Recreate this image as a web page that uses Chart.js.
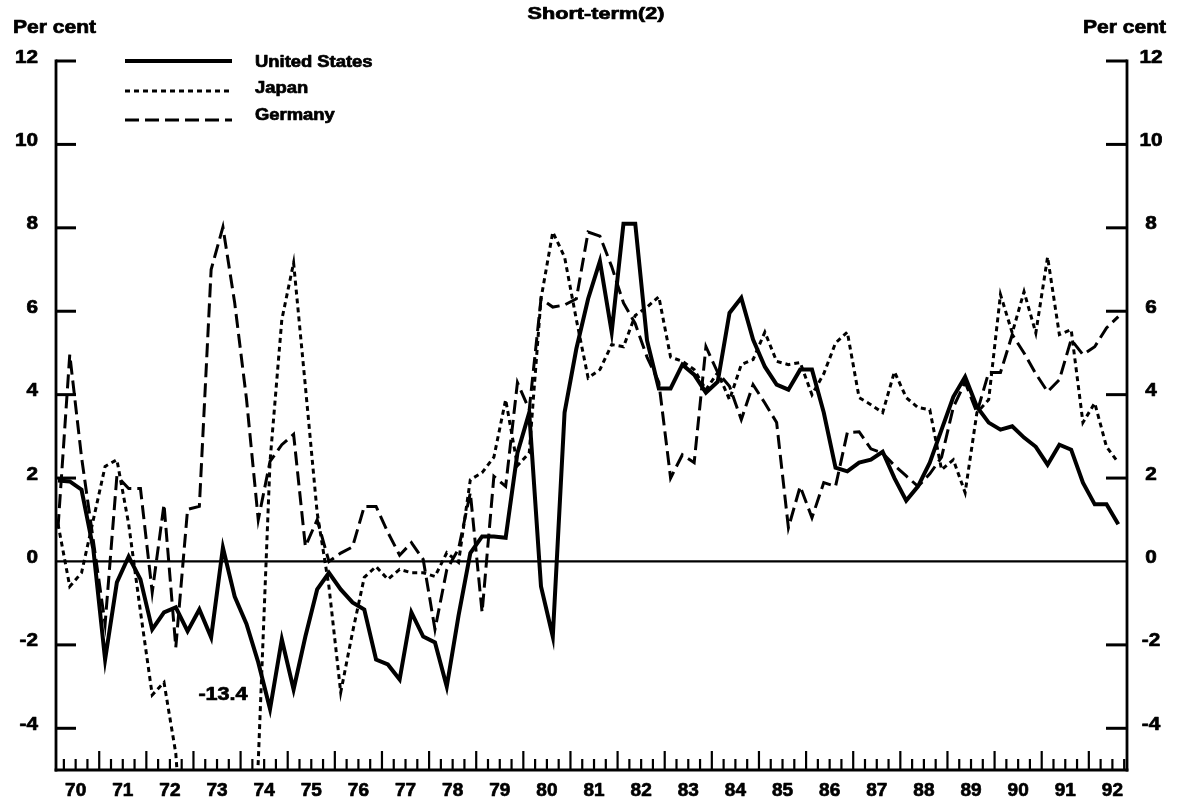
<!DOCTYPE html>
<html>
<head>
<meta charset="utf-8">
<title>Short-term(2)</title>
<script src="https://cdn.jsdelivr.net/npm/chart.js@4.4.1/dist/chart.umd.min.js"></script>
<style>
  html, body { margin: 0; padding: 0; background: #fff; }
  canvas { display: block; }
</style>
</head>
<body>
<canvas id="chart" width="1177" height="803"></canvas>
<script>
// Real short-term interest rates, quarterly, 1970 Q1 to 1992 Q3 (per cent)
const firstYear = 70;
const yearLabels = ['70','71','72','73','74','75','76','77','78','79','80','81',
                    '82','83','84','85','86','87','88','89','90','91','92'];
const yTicks = [12, 10, 8, 6, 4, 2, 0, -2, -4];

const unitedStates = [
  1.94, 1.92, 1.72, 0.3, -2.35, -0.5, 0.12, -0.43, -1.63, -1.22, -1.1, -1.67,
  -1.15, -1.82, 0.33, -0.84, -1.5, -2.42, -3.54, -1.87, -3.07, -1.8, -0.67, -0.27,
  -0.67, -0.98, -1.15, -2.35, -2.47, -2.83, -1.22, -1.8, -1.94, -3.0, -1.3, 0.2,
  0.6, 0.6, 0.57, 2.6, 3.57, -0.6, -1.8, 3.57, 5.1, 6.3, 7.2, 5.5,
  8.1, 8.1, 5.3, 4.15, 4.15, 4.72, 4.48, 4.05, 4.31, 5.96, 6.32, 5.32,
  4.67, 4.24, 4.12, 4.6, 4.6, 3.57, 2.25, 2.16, 2.37, 2.44, 2.63, 2.0,
  1.46, 1.8, 2.37, 3.16, 3.95, 4.43, 3.71, 3.33, 3.16, 3.24, 2.97, 2.75,
  2.32, 2.8, 2.68, 1.89, 1.37, 1.37, 0.89
];

const japan = [
  0.9, -0.6, -0.27, 1.0, 2.28, 2.44, 0.9, -1.2, -3.2, -2.9, -4.6, -8.6,
  -10.5, -12.0, -13.4, -12.6, -10.2, -4.8, 2.4, 5.8, 7.16, 4.2, 1.17, -0.6,
  -3.14, -1.7, -0.38, -0.12, -0.43, -0.19, -0.27, -0.27, -0.36, 0.21, -0.02, 1.96,
  2.13, 2.5, 3.88, 2.3, 2.6, 6.3, 7.9, 7.3, 5.8, 4.4, 4.6, 5.2,
  5.15, 5.9, 6.1, 6.35, 4.9, 4.8, 4.6, 4.12, 4.53, 3.88, 4.72, 4.84,
  5.5, 4.8, 4.72, 4.77, 4.0, 4.5, 5.24, 5.5, 3.93, 3.76, 3.57, 4.55,
  3.93, 3.69, 3.64, 2.2, 2.44, 1.65, 3.57, 3.88, 6.4, 5.48, 6.47, 5.48,
  7.3, 5.44, 5.56, 3.33, 3.8, 2.75, 2.37
];

const germany = [
  0.8, 4.96, 2.5, 0.5, -1.5, 2.05, 1.75, 1.75, -0.74, 1.37, -2.06, 1.25,
  1.32, 7.0, 8.02, 6.2, 3.9, 1.0, 2.4, 2.8, 3.05, 0.36, 1.0, 0.0,
  0.2, 0.35, 1.32, 1.32, 0.7, 0.15, 0.45, 0.05, -1.63, -0.2, 0.3, 1.65,
  -1.22, 2.04, 1.8, 4.29, 3.64, 6.3, 6.1, 6.15, 6.3, 7.9, 7.8, 7.07,
  6.2, 5.7, 4.9, 4.3, 2.0, 2.56, 2.37, 5.15, 4.53, 4.2, 3.4, 4.24,
  3.8, 3.33, 0.81, 1.8, 1.05, 1.89, 1.8, 3.09, 3.11, 2.7, 2.6, 2.3,
  2.05, 1.8, 2.1, 2.5, 3.7, 4.3, 3.57, 4.53, 4.53, 5.44, 5.0, 4.5,
  4.07, 4.36, 5.32, 4.96, 5.15, 5.6, 5.87
];

// Japan's trough lies far below the axis; its value is written on the chart
const japanTroughLabel = '-13.4';

// each quarter is plotted at its mid-point on a time axis in years
const quarterTime = i => firstYear + i / 4 + 0.125;
const toPoints = arr => arr.map((v, i) => ({ x: quarterTime(i), y: v }));

const FONT = '"Liberation Sans", Arial, Helvetica, sans-serif';

// heavy, slightly widened lettering
function stretchedText(ctx, text, x, y, size, align, sx) {
  ctx.save();
  ctx.font = 'bold ' + size + 'px ' + FONT;
  ctx.textAlign = align;
  ctx.textBaseline = 'alphabetic';
  ctx.translate(x, y);
  ctx.scale(sx, 1);
  ctx.fillText(text, 0, 0);
  ctx.lineWidth = 0.7;
  ctx.strokeStyle = '#000';
  ctx.lineJoin = 'round';
  ctx.strokeText(text, 0, 0);
  ctx.restore();
}

function seg(ctx, x1, y1, x2, y2) {
  ctx.beginPath();
  ctx.moveTo(x1, y1);
  ctx.lineTo(x2, y2);
  ctx.stroke();
}

const styles = {
  us: { width: 4, dash: [] },
  jp: { width: 3, dash: [5, 4] },
  de: { width: 3, dash: [14, 6] }
};

const framePlugin = {
  id: 'frame',
  beforeDatasetsDraw(chart) {
    const { ctx, chartArea: a, scales: { x, y } } = chart;
    ctx.save();
    ctx.strokeStyle = '#000';
    ctx.lineCap = 'butt';

    // zero line
    ctx.lineWidth = 2.2;
    const y0 = y.getPixelForValue(0);
    seg(ctx, a.left, y0, a.right, y0);

    // left and right axes, from the top tick down to the bottom
    const yTop = y.getPixelForValue(yTicks[0]);
    ctx.lineWidth = 2.8;
    seg(ctx, a.left, yTop - 1.4, a.left, a.bottom + 1.5);
    seg(ctx, a.right, yTop - 1.4, a.right, a.bottom + 1.5);

    // bottom axis
    ctx.lineWidth = 3;
    seg(ctx, a.left - 1.4, a.bottom, a.right + 1.4, a.bottom);

    // inward value ticks on both sides (none at zero, the zero line is there)
    ctx.lineWidth = 3;
    yTicks.forEach(v => {
      if (v === 0) return;
      const py = y.getPixelForValue(v);
      seg(ctx, a.left, py, a.left + 20, py);
      seg(ctx, a.right - 21, py, a.right, py);
    });

    // year (tall) and quarter (short) ticks along the bottom
    ctx.lineWidth = 2.2;
    const lastYear = firstYear + yearLabels.length;
    for (let q = firstYear * 4 + 1; q < lastYear * 4; q++) {
      const t = q / 4;
      const px = x.getPixelForValue(t);
      if (px <= a.left + 2 || px >= a.right - 1) continue;
      const tall = q % 4 === 0;
      seg(ctx, px, a.bottom, px, a.bottom - (tall ? 19 : 11));
    }
    ctx.restore();
  },
  afterDraw(chart) {
    const { ctx, scales: { x, y } } = chart;
    ctx.save();
    ctx.fillStyle = '#000';

    // title and unit captions
    stretchedText(ctx, 'Short-term(2)', 596, 19, 16, 'center', 1.35);
    stretchedText(ctx, 'Per cent', 13, 33, 18, 'left', 1.17);
    stretchedText(ctx, 'Per cent', 1083, 33, 18, 'left', 1.17);

    // value labels on both sides
    yTicks.forEach(v => {
      const py = y.getPixelForValue(v) + 1.5;
      stretchedText(ctx, String(v), 38, py, 18, 'right', 1.15);
      stretchedText(ctx, String(v), 1151, py, 18, 'center', 1.15);
    });

    // year labels centred in each year
    yearLabels.forEach((lab, k) => {
      const px = x.getPixelForValue(firstYear + k + 0.5);
      stretchedText(ctx, lab, px, 796, 19, 'center', 1.0);
    });

    // note for Japan's off-scale trough
    stretchedText(ctx, japanTroughLabel, 223, 700, 18, 'center', 1.2);

    // legend
    const legend = [
      { name: 'United States', st: styles.us, ly: 61, ty: 67 },
      { name: 'Japan',         st: styles.jp, ly: 91, ty: 93 },
      { name: 'Germany',       st: styles.de, ly: 120, ty: 120 }
    ];
    ctx.strokeStyle = '#000';
    legend.forEach(it => {
      ctx.lineWidth = it.st.width;
      ctx.setLineDash(it.st.dash);
      seg(ctx, 125, it.ly, 232, it.ly);
      ctx.setLineDash([]);
      stretchedText(ctx, it.name, 255, it.ty, 16, 'left', 1.15);
    });
    ctx.restore();
  }
};

const mkSet = (label, values, st) => ({
  label,
  data: toPoints(values),
  borderColor: '#000',
  borderWidth: st.width,
  borderDash: st.dash,
  pointRadius: 0,
  tension: 0,
  fill: false,
  clip: { left: 0, right: 2, top: 2, bottom: 1 }
});

new Chart(document.getElementById('chart'), {
  type: 'line',
  data: {
    datasets: [
      mkSet('Germany', germany, styles.de),
      mkSet('Japan', japan, styles.jp),
      mkSet('United States', unitedStates, styles.us)
    ]
  },
  options: {
    responsive: false,
    devicePixelRatio: 1,
    animation: false,
    layout: { padding: { left: 56, right: 50, top: 61, bottom: 33 } },
    scales: {
      x: { type: 'linear', min: 70.083, max: 92.81, display: false },
      y: { min: -5, max: 12, display: false }
    },
    plugins: {
      legend: { display: false },
      tooltip: { enabled: false },
      title: { display: false }
    }
  },
  plugins: [framePlugin]
});
</script>
</body>
</html>
